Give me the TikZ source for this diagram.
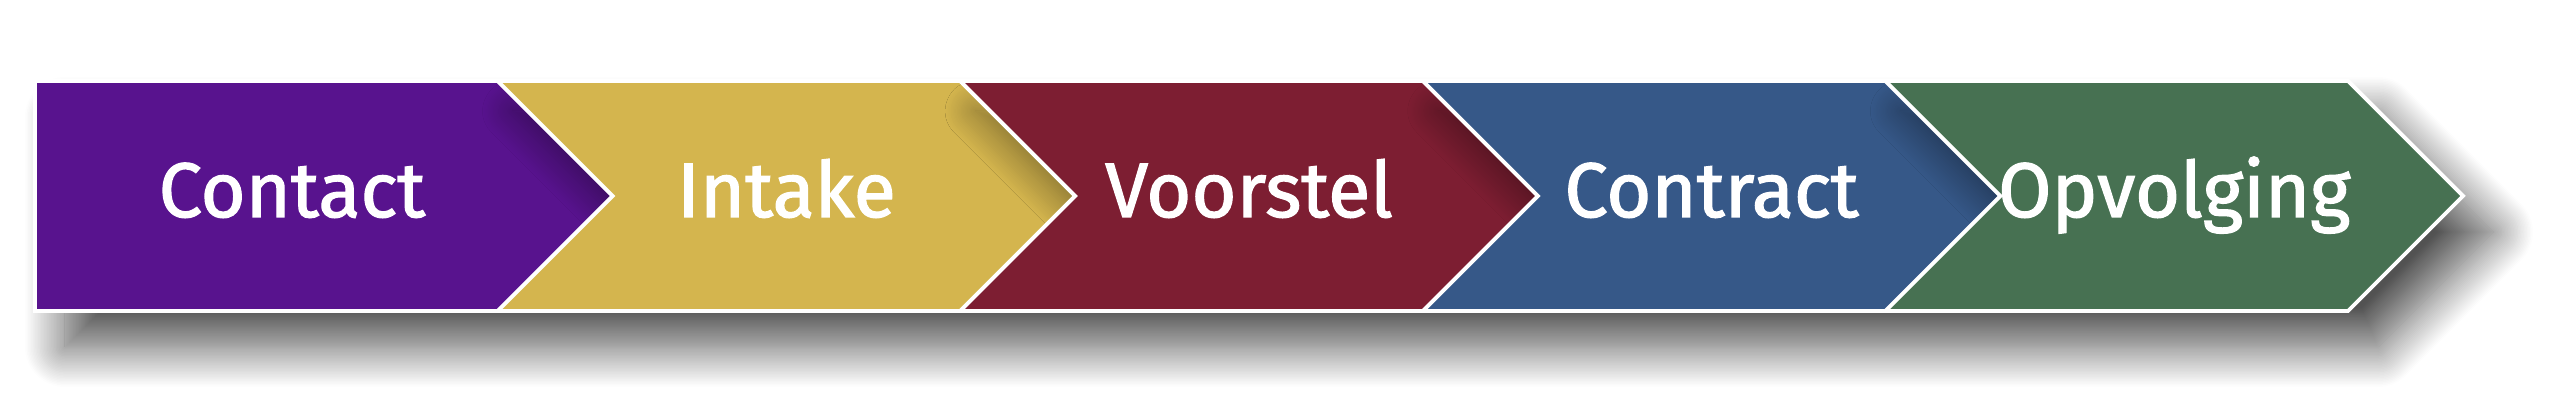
\documentclass[tikz,border=0pt]{standalone}
\usepackage{fontspec}
\setsansfont{Fira Sans}[BoldFont=Fira Sans, BoldFeatures={FakeBold=1.6}]
\usepackage{tikz}
\usetikzlibrary{shadows.blur}
\definecolor{contactc}{RGB}{88,19,142}
\definecolor{intakec}{RGB}{212,181,78}
\definecolor{voorstelc}{RGB}{125,30,50}
\definecolor{contractc}{RGB}{54,88,136}
\definecolor{opvolgc}{RGB}{71,113,82}
\tikzset{
  dropshade/.style = {blur shadow={shadow xshift=0.3cm, shadow yshift=-0.36cm,
                      shadow blur radius=0.4cm, shadow blur steps=28,
                      shadow opacity=68}},
  tipshade/.style  = {blur shadow={shadow xshift=0.15cm, shadow yshift=-0.3cm,
                      shadow blur radius=0.3cm, shadow blur steps=24,
                      shadow opacity=40}},
  rim/.style       = {draw=white, line width=1.1pt, line join=miter},
  label/.style     = {text=white, font=\sffamily\bfseries\fontsize{22}{24}\selectfont,
                      anchor=base, inner sep=0pt}
}

\begin{document}
\begin{tikzpicture}
    \useasboundingbox (0,0) rectangle (25.6,4.08);
    % corner points of the steps
    \coordinate (t0) at (0.35,3.27);   \coordinate (b0) at (0.35,0.97);
    \coordinate (t1) at (4.976,3.27);  \coordinate (b1) at (4.976,0.97);
    \coordinate (t2) at (9.602,3.27);  \coordinate (b2) at (9.602,0.97);
    \coordinate (t3) at (14.228,3.27); \coordinate (b3) at (14.228,0.97);
    \coordinate (t4) at (18.854,3.27); \coordinate (b4) at (18.854,0.97);
    \coordinate (t5) at (23.48,3.27);  \coordinate (b5) at (23.48,0.97);
    \coordinate (p1) at (6.126,2.12);
    \coordinate (p2) at (10.752,2.12);
    \coordinate (p3) at (15.378,2.12);
    \coordinate (p4) at (20.004,2.12);
    \coordinate (p5) at (24.63,2.12);
    % shadow of the whole band
    \path[dropshade] (t0) -- (t5) -- (p5) -- (b5) -- (b0) -- cycle;
    % steps
    \fill[contactc]  (t0) -- (t1) -- (p1) -- (b1) -- (b0) -- cycle;
    \fill[intakec]   (t1) -- (t2) -- (p2) -- (b2) -- (b1) -- (p1) -- cycle;
    \fill[voorstelc] (t2) -- (t3) -- (p3) -- (b3) -- (b2) -- (p2) -- cycle;
    \fill[contractc] (t3) -- (t4) -- (p4) -- (b4) -- (b3) -- (p3) -- cycle;
    \fill[opvolgc]   (t4) -- (t5) -- (p5) -- (b5) -- (b4) -- (p4) -- cycle;
    % shade on each tip from the next step
    \begin{scope}
      \clip (t0) -- (t1) -- (p1) -- (b1) -- (b0) -- cycle;
      \path[tipshade] (t1) -- (t2) -- (p2) -- (b2) -- (b1) -- (p1) -- cycle;
    \end{scope}
    \begin{scope}
      \clip (t1) -- (t2) -- (p2) -- (b2) -- (b1) -- (p1) -- cycle;
      \path[tipshade] (t2) -- (t3) -- (p3) -- (b3) -- (b2) -- (p2) -- cycle;
    \end{scope}
    \begin{scope}
      \clip (t2) -- (t3) -- (p3) -- (b3) -- (b2) -- (p2) -- cycle;
      \path[tipshade] (t3) -- (t4) -- (p4) -- (b4) -- (b3) -- (p3) -- cycle;
    \end{scope}
    \begin{scope}
      \clip (t3) -- (t4) -- (p4) -- (b4) -- (b3) -- (p3) -- cycle;
      \path[tipshade] (t4) -- (t5) -- (p5) -- (b5) -- (b4) -- (p4) -- cycle;
    \end{scope}
    % white rims
    \draw[rim] (t0) -- (t5) -- (p5) -- (b5) -- (b0) -- cycle;
    \draw[rim] (t1) -- (p1) -- (b1);
    \draw[rim] (t2) -- (p2) -- (b2);
    \draw[rim] (t3) -- (p3) -- (b3);
    \draw[rim] (t4) -- (p4) -- (b4);
    % labels
    \node[label] (contact)  at (2.92,1.91)   {Contact};
    \node[label] (intake)   at (7.864,1.91)  {Intake};
    \node[label] (voorstel) at (12.49,1.91)  {Voorstel};
    \node[label] (contract) at (17.116,1.91) {Contract};
    \node[label] (opvolg)   at (21.742,1.91) {Opvolging};
\end{tikzpicture}
\end{document}
